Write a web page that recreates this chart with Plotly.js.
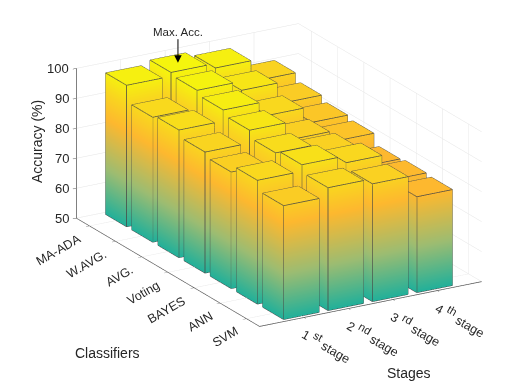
<!DOCTYPE html>
<html>
<head>
<meta charset="utf-8">
<script src="https://cdn.plot.ly/plotly-3.0.1.min.js"></script>
<style>html,body{margin:0;padding:0;background:#fff}</style>
</head>
<body>
<div id="plotArea" style="width:526px;height:392px"></div>
<script>
var stageNames = ["1", "2", "3", "4"];
var stageSuffix = ["st", "nd", "rd", "th"];
var classifiers = ["MA-ADA", "W.AVG.", "AVG.", "Voting", "BAYES", "ANN", "SVM"];
var zTicks = [50, 60, 70, 80, 90, 100];

var maAda  = [97.2, 98.5, 97.0, 90.0];
var wAvg   = [91.7, 97.7, 94.7, 87.7];
var avg    = [92.6, 96.3, 91.5, 86.2];
var voting = [90.4, 94.7, 88.8, 85.3];
var bayes  = [88.9, 92.3, 89.3, 81.9];
var ann    = [91.3, 93.5, 91.2, 82.4];
var svm    = [88.0, 91.0, 89.3, 82.0];
var accuracy = [maAda, wAvg, avg, voting, bayes, ann, svm];

var base = 50, half = 0.4;
var xs = [], ys = [], zs = [], ci = [], cj = [], ck = [];
var ex = [], ey = [], ez = [];

function addBar(x, y, h) {
  var n = xs.length;
  var px = [x - half, x + half, x + half, x - half];
  var py = [y - half, y - half, y + half, y + half];
  for (var l = 0; l < 2; l++) {
    for (var c = 0; c < 4; c++) {
      xs.push(px[c]); ys.push(py[c]); zs.push(l ? h : base);
    }
  }
  // sides
  for (var s = 0; s < 4; s++) {
    var a = s, b = (s + 1) % 4;
    ci.push(n + a, n + a); cj.push(n + b, n + b + 4); ck.push(n + b + 4, n + a + 4);
    // edges: top and bottom ring segment, then vertical
    ex.push(px[a], px[b], null, px[a], px[b], null, px[a], px[a], null);
    ey.push(py[a], py[b], null, py[a], py[b], null, py[a], py[a], null);
    ez.push(h, h, null, base, base, null, base, h, null);
  }
  ci.push(n + 4, n + 4); cj.push(n + 5, n + 6); ck.push(n + 6, n + 7);
}

accuracy.forEach(function (row, r) {
  row.forEach(function (v, s) { addBar(s + 1, classifiers.length - r, v); });
});

var bars = {
  type: "mesh3d", x: xs, y: ys, z: zs, i: ci, j: cj, k: ck,
  intensity: zs, cmin: 50, cmax: 100, showscale: false, hoverinfo: "skip",
  colorscale: [[0, "#22b09a"], [0.3, "#9cbc72"], [0.64, "#fdb82f"], [0.82, "#f9d61f"], [1, "#f4fb0a"]],
  lighting: {ambient: 1, diffuse: 0, specular: 0, roughness: 1, fresnel: 0}
};
var edges = {
  type: "scatter3d", mode: "lines", x: ex, y: ey, z: ez, hoverinfo: "skip", showlegend: false,
  line: {color: "#454545", width: 1.5}
};

var labelFont = {family: "Liberation Sans, Arial, sans-serif", size: 12.5, color: "#262626"};
var notes = [];
stageNames.forEach(function (t, s) {
  var text = t + '&nbsp;<sup><span style="font-size:130%">' + stageSuffix[s] + '</span></sup>&nbsp;stage';
  notes.push({x: s + 1, y: 0.5, z: 50, text: text, showarrow: false, textangle: 30, font: labelFont,
    xanchor: "left", yanchor: "top", xshift: -7, yshift: -4});
});
classifiers.forEach(function (t, r) {
  notes.push({x: 0, y: classifiers.length - r, z: 50, text: t, showarrow: false, textangle: -30, font: labelFont,
    xanchor: "right", yanchor: "top", xshift: -3, yshift: -3});
});
zTicks.forEach(function (v) {
  notes.push({x: 0, y: 7.5, z: v, text: String(v), showarrow: false,
    font: {family: labelFont.family, size: 13, color: "#262626"}, xanchor: "right", xshift: -5, yshift: 0});
});
notes.push({x: 2, y: 7, z: 98.5, text: "Max. Acc.", showarrow: true, arrowhead: 2, arrowsize: 1.5, arrowwidth: 1,
  arrowcolor: "#000", ax: 0, ay: -31, font: {family: labelFont.family, size: 11.5, color: "#262626"}});

var gridColor = "#e4e4e4", lineColor = "#555555";
function axis(range, ticks) {
  return {range: range, tickvals: ticks, showticklabels: false, title: {text: ""}, autorange: false,
    showgrid: true, gridcolor: gridColor, gridwidth: 1, zeroline: false, showbackground: false,
    showline: true, linecolor: lineColor, linewidth: 1.5, ticks: "outside", ticklen: 4, tickcolor: lineColor,
    showspikes: false};
}

var a = 30.3 * Math.PI / 180, e = 20.2 * Math.PI / 180, r = 1.75;
var titleFont = {family: labelFont.family, size: 14, color: "#262626"};
function paperNote(text, px, py, angle) {
  return {xref: "paper", yref: "paper", x: px / 526, y: 1 - py / 392, xanchor: "center", yanchor: "middle",
    text: text, textangle: angle, showarrow: false, font: titleFont};
}
var layout = {
  width: 526, height: 392, margin: {l: 0, r: 0, t: 0, b: 0}, showlegend: false,
  paper_bgcolor: "#fff",
  scene: {
    domain: {x: [0.06, 1], y: [0.107, 1]},
    xaxis: axis([0, 5], [1, 2, 3, 4]),
    yaxis: axis([0.5, 7.5], [1, 2, 3, 4, 5, 6, 7]),
    zaxis: axis([50, 100], zTicks),
    aspectmode: "manual",
    aspectratio: {x: 1.47, y: 2.075, z: 0.912},
    camera: {
      projection: {type: "orthographic"},
      up: {x: 0, y: 0, z: 1}, center: {x: 0, y: 0, z: 0},
      eye: {x: -r * Math.sin(a) * Math.cos(e), y: -r * Math.cos(a) * Math.cos(e), z: r * Math.sin(e)}
    },
    annotations: notes
  },
  annotations: [
    paperNote("Accuracy (%)", 37, 142, -90),
    paperNote("Classifiers", 107, 353, 0),
    paperNote("Stages", 409, 373, 0)
  ]
};

Plotly.newPlot("plotArea", [bars, edges], layout, {displayModeBar: false});
</script>
</body>
</html>
